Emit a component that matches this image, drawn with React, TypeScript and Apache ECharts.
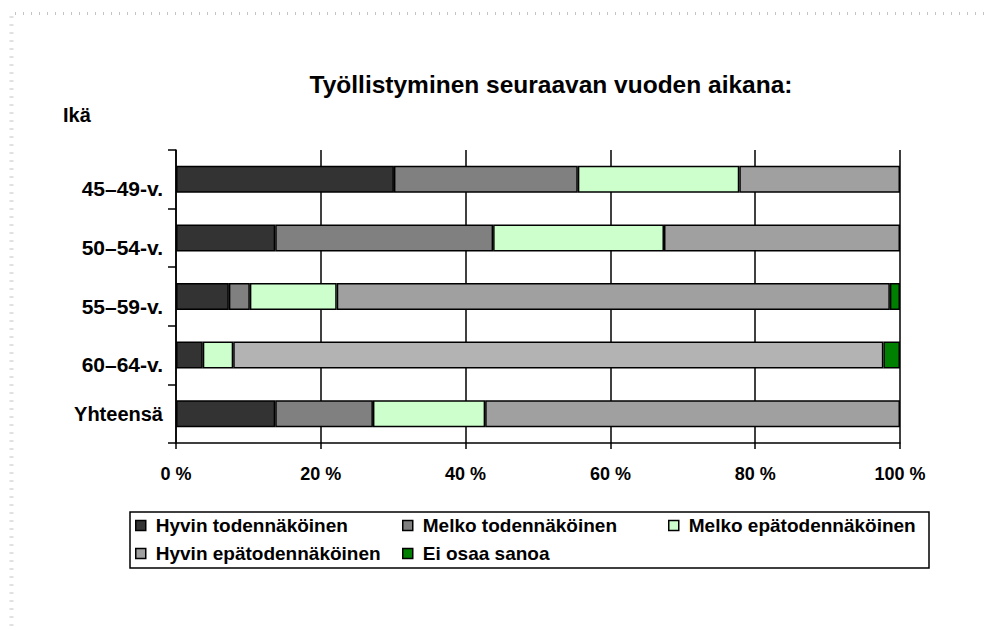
import React, { useEffect, useRef } from "react";
import * as echarts from "echarts";

const categories = ["45–49-v.", "50–54-v.", "55–59-v.", "60–64-v.", "Yhteensä"];
const seriesNames = [
  "Hyvin todennäköinen",
  "Melko todennäköinen",
  "Melko epätodennäköinen",
  "Hyvin epätodennäköinen",
  "Ei osaa sanoa",
];
const hyvinTod = [30.1, 13.7, 7.3, 3.7, 13.7];
const melkoTod = [25.4, 30.1, 2.9, null, 13.5];
const melkoEpa = [22.3, 23.6, 12.0, 4.2, 15.5];
const hyvinEpa = [22.2, 32.6, 76.4, 89.8, 57.3];
const eiOsaa = [null, null, 1.4, 2.3, null];
const xTicks = [0, 20, 40, 60, 80, 100];

const colors = ["#333333", "#808080", "#ccffcc", "#a0a0a0", "#008000"];
const FONT = "'Liberation Sans', Arial, sans-serif";

export default function App() {
  const ref = useRef<HTMLDivElement>(null);
  useEffect(() => {
    if (!ref.current) return;
    const chart = echarts.init(ref.current, undefined, { renderer: "svg" });
    const values = [hyvinTod, melkoTod, melkoEpa, hyvinEpa, eiOsaa];
    const series = seriesNames.map((name, si) => ({
      name,
      type: "bar",
      stack: "total",
      barWidth: 27,
      itemStyle: { color: colors[si], borderColor: "#000", borderWidth: 1.5 },
      data: values[si].map((v, i) =>
        si === 3 && i === 3 ? { value: v, itemStyle: { color: "#b3b3b3" } } : v
      ),
    }));
    const legendBase = {
      orient: "vertical",
      itemWidth: 10,
      itemHeight: 10,
      itemGap: 9,
      padding: 0,
      icon: "rect",
      top: 516,
      itemStyle: { borderColor: "#000", borderWidth: 1.5 },
      textStyle: {
        fontFamily: FONT,
        fontWeight: "bold",
        fontSize: 19,
        color: "#000",
        lineHeight: 19,
        padding: [0, 0, 0, 5],
      },
    };
    chart.setOption({
      animation: false,
      backgroundColor: "#fff",
      textStyle: { fontFamily: FONT },
      title: {
        text: "Työllistyminen seuraavan vuoden aikana:",
        left: 551,
        top: 72,
        textAlign: "center",
        padding: 0,
        textStyle: { fontFamily: FONT, fontWeight: "bold", fontSize: 24.5, color: "#000" },
      },
      legend: [
        { ...legendBase, left: 135, data: [seriesNames[0], seriesNames[3]] },
        { ...legendBase, left: 402, data: [seriesNames[1], seriesNames[4]] },
        { ...legendBase, left: 668, data: [seriesNames[2]] },
      ],
      grid: { left: 176, right: 84, top: 150, bottom: 183, containLabel: false },
      xAxis: {
        type: "value",
        min: xTicks[0],
        max: xTicks[xTicks.length - 1],
        interval: 20,
        axisLine: { show: true, lineStyle: { color: "#000", width: 1.5 } },
        axisTick: { show: true, length: 6, lineStyle: { color: "#000", width: 1.5 } },
        splitLine: { show: true, lineStyle: { color: "#000", width: 1.5 } },
        axisLabel: {
          formatter: "{value} %",
          margin: 22,
          fontFamily: FONT,
          fontWeight: "bold",
          fontSize: 18,
          color: "#000",
        },
      },
      yAxis: {
        type: "category",
        inverse: true,
        data: categories,
        axisLine: { show: true, lineStyle: { color: "#000", width: 1.5 } },
        axisTick: { show: true, length: 8, lineStyle: { color: "#000", width: 1.5 } },
        axisLabel: {
          margin: 13,
          fontFamily: FONT,
          fontWeight: "bold",
          fontSize: 21,
          color: "#000",
          formatter: (v: string, i: number) => (i < 4 ? `{d|${v}}` : `{n|${v}}`),
          rich: {
            d: { fontFamily: FONT, fontWeight: "bold", fontSize: 21, color: "#000", padding: [19, 0, 0, 0] },
            n: { fontFamily: FONT, fontWeight: "bold", fontSize: 20, color: "#000" },
          },
        },
      },
      graphic: [
        {
          type: "text",
          left: 63,
          top: 105,
          style: { text: "Ikä", fontFamily: FONT, fontWeight: "bold", fontSize: 20, fill: "#000" },
        },
        {
          type: "rect",
          shape: { x: 130, y: 512, width: 799, height: 56 },
          style: { fill: "none", stroke: "#000", lineWidth: 1.5 },
        },
        {
          type: "line",
          shape: { x1: 15, y1: 13.5, x2: 984, y2: 13.5 },
          style: { stroke: "#c4c4c4", lineWidth: 3, lineDash: [1, 7] },
        },
        {
          type: "line",
          shape: { x1: 11.5, y1: 16.5, x2: 11.5, y2: 626 },
          style: { stroke: "#c4c4c4", lineWidth: 4, lineDash: [1, 7] },
        },
      ],
      series,
    });
    return () => chart.dispose();
  }, []);
  return (
    <div
      ref={ref}
      style={{ position: "fixed", left: 0, top: 0, width: 984, height: 626 }}
    />
  );
}
